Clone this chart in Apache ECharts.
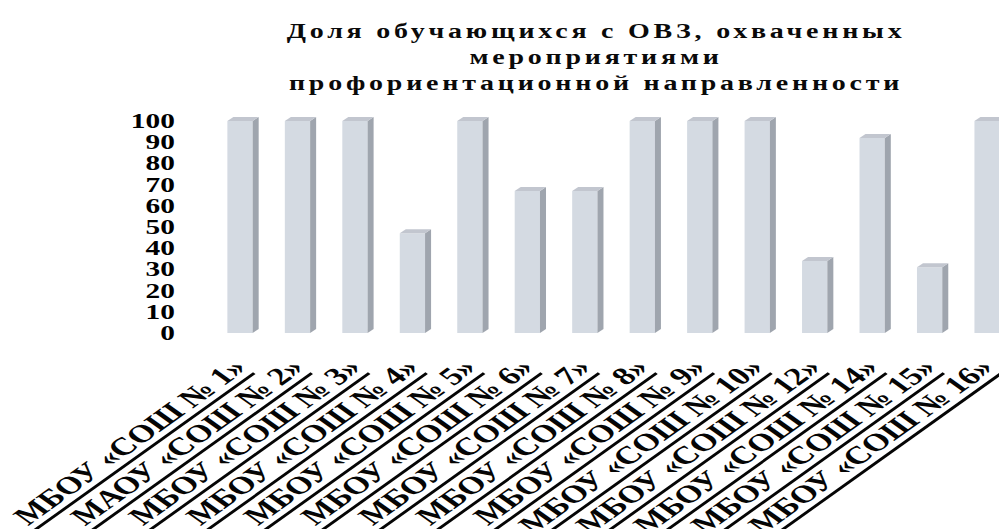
<!DOCTYPE html>
<html>
<head>
<meta charset="utf-8">
<script src="https://cdn.jsdelivr.net/npm/echarts@6/dist/echarts.min.js"></script>
<style>
  html, body { margin: 0; padding: 0; background: #fff; overflow: hidden; width: 999px; height: 529px; }
  #chart { width: 714px; height: 529px; transform: scaleX(1.3992); transform-origin: 0 0; }
  #chart text[fill="#0a0a0a"] { letter-spacing: 2.7px; }
  #chart text[fill="#050505"] { text-decoration: underline; }
</style>
</head>
<body>
<div id="chart"></div>
<script>
const titleText = 'Доля обучающихся с ОВЗ, охваченных\nмероприятиями\nпрофориентационной направленности';
const categories = [
  'МБОУ «СОШ № 1»', 'МАОУ «СОШ № 2»', 'МБОУ «СОШ № 3»', 'МБОУ «СОШ № 4»',
  'МБОУ «СОШ № 5»', 'МБОУ «СОШ № 6»', 'МБОУ «СОШ № 7»', 'МБОУ «СОШ № 8»',
  'МБОУ «СОШ № 9»', 'МБОУ «СОШ № 10»', 'МБОУ «СОШ № 12»', 'МБОУ «СОШ № 14»',
  'МБОУ «СОШ № 15»', 'МБОУ «СОШ № 16»'
];
const values = [100, 100, 100, 47, 100, 67, 67, 100, 100, 100, 34, 92, 31, 100];
const yTicks = [0, 10, 20, 30, 40, 50, 60, 70, 80, 90, 100];

const serif = "'Liberation Serif', 'Times New Roman', serif";
const chart = echarts.init(document.getElementById('chart'), null, { renderer: 'svg' });

function renderBar(params, api) {
  const idx = api.value(0);
  const v = api.value(1);
  const top = api.coord([idx, v]);
  const base = api.coord([idx, 0]);
  const w = api.size([1, 0])[0] * 0.44;
  const dx = 4.3, dy = 4;
  const l = top[0] - w / 2, r = top[0] + w / 2;
  return {
    type: 'group',
    children: [
      { type: 'polygon', shape: { points: [[l, top[1]], [r, top[1]], [r, base[1]], [l, base[1]]] },
        style: { fill: '#d4dae2' } },
      { type: 'polygon', shape: { points: [[r, top[1]], [r + dx, top[1] - dy], [r + dx, base[1] - dy], [r, base[1]]] },
        style: { fill: '#9fa5ae' } },
      { type: 'polygon', shape: { points: [[l, top[1]], [l + dx, top[1] - dy], [r + dx, top[1] - dy], [r, top[1]]] },
        style: { fill: '#c2c6cf' } }
    ]
  };
}

chart.setOption({
  animation: false,
  backgroundColor: '#ffffff',
  title: {
    text: titleText,
    left: 426,
    top: 18,
    padding: 0,
    textAlign: 'center',
    textStyle: {
      fontFamily: serif,
      fontWeight: 'bold',
      fontSize: 20,
      lineHeight: 26,
      color: '#0a0a0a'
    }
  },
  grid: { left: 151, right: -12, top: 121, bottom: 196, containLabel: false, outerBoundsMode: 'none' },
  xAxis: {
    type: 'category',
    data: categories,
    axisLine: { show: false },
    axisTick: { show: false },
    axisLabel: {
      interval: 0,
      rotate: 45,
      margin: 30,
      hideOverlap: false,
      fontFamily: serif,
      fontWeight: 'bold',
      fontSize: 25,
      color: '#050505'
    }
  },
  yAxis: {
    type: 'value',
    min: yTicks[0],
    max: yTicks[yTicks.length - 1],
    interval: yTicks[1] - yTicks[0],
    axisLine: { show: false },
    axisTick: { show: false },
    splitLine: { show: false },
    axisLabel: {
      showMinLabel: true,
      showMaxLabel: true,
      hideOverlap: false,
      margin: 26,
      fontFamily: serif,
      fontWeight: 'bold',
      fontSize: 21,
      lineHeight: 16,
      color: '#000000'
    }
  },
  series: [{
    type: 'custom',
    renderItem: renderBar,
    data: values.map((v, i) => [i, v]),
    encode: { x: 0, y: 1 }
  }]
});
</script>
</body>
</html>
